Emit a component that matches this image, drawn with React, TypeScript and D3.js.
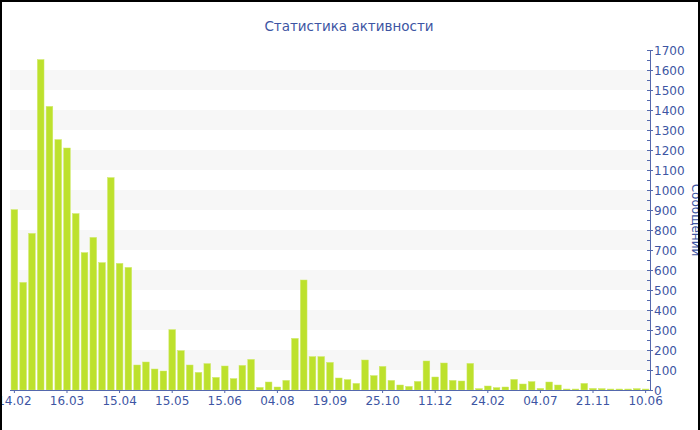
import React from "react";
import * as d3 from "d3";

const values: number[] = [
  902, 538, 783, 1652, 1418, 1252, 1210, 882, 687, 763, 637, 1062, 633, 613,
  125, 140, 105, 95, 302, 197, 125, 88, 132, 63, 120, 57, 123, 153, 13, 40,
  15, 48, 258, 550, 167, 167, 138, 60, 52, 33, 150, 72, 118, 48, 25, 18, 43,
  145, 65, 135, 48, 45, 133, 7, 20, 12, 15, 53, 30, 42, 8, 40, 25, 5, 5, 33,
  8, 7, 5, 5, 5, 7, 5,
];
const tickLabels: string[] = [
  "14.02", "16.03", "15.04", "15.05", "15.06", "04.08", "19.09", "25.10",
  "11.12", "24.02", "04.07", "21.11", "10.06",
];
const tickEvery = 6;
const title = "Статистика активности";
const yTitle = "Сообщений";
const yMax = 1700;

const W = 700;
const H = 430;
const left = 10;
const right = 650;
const top = 50;
const bottom = 390;
const textColor = "#3d55a3";
const axisColor = "#5468ad";
const barColor = "#bde12d";
const font = "DejaVu Sans, Verdana, sans-serif";

export default function App() {
  const categories = values.map((_, i) => i);
  const x = d3
    .scaleBand<number>()
    .domain(categories)
    .range([left, right])
    .paddingInner(0.24)
    .paddingOuter(0.12);
  const y = d3.scaleLinear().domain([0, yMax]).range([bottom, top]);
  const majorTicks = d3.range(0, yMax + 1, 100);
  const minorTicks = d3.range(50, yMax, 100);
  const bands = d3.range(100, yMax, 200).filter((v) => v + 100 <= yMax);
  const xTicks = tickLabels.map((lab, k) => ({
    lab,
    cx: (x(k * tickEvery) as number) + x.bandwidth() / 2,
  }));

  return (
    <svg
      width={W}
      height={H}
      style={{ position: "absolute", left: 0, top: 0, background: "#fff" }}
      fontFamily={font}
    >
      {bands.map((b) => (
        <rect
          key={b}
          x={left}
          y={y(b + 100)}
          width={right - left}
          height={y(b) - y(b + 100)}
          fill="#f7f7f7"
        />
      ))}
      {values.map((v, i) => (
        <rect
          key={i}
          x={x(i)}
          y={y(v)}
          width={x.bandwidth()}
          height={y(0) - y(v)}
          fill={barColor}
          stroke="#cfe96a"
          strokeWidth={0.5}
        />
      ))}
      {/* x axis */}
      <line x1={left} x2={right} y1={bottom + 0.5} y2={bottom + 0.5} stroke={axisColor} />
      {xTicks.map((t) => (
        <g key={t.lab}>
          <line x1={t.cx} x2={t.cx} y1={bottom} y2={bottom + 3} stroke={axisColor} />
          <text
            x={t.cx}
            y={bottom + 15}
            textAnchor="middle"
            fontSize={12}
            fill={textColor}
          >
            {t.lab}
          </text>
        </g>
      ))}
      {/* y axis */}
      <line x1={right + 0.5} x2={right + 0.5} y1={top} y2={bottom} stroke={axisColor} />
      {minorTicks.map((t) => (
        <line key={t} x1={right - 3} x2={right} y1={y(t) + 0.5} y2={y(t) + 0.5} stroke={axisColor} />
      ))}
      {majorTicks.map((t) => (
        <g key={t}>
          <line x1={right - 3} x2={right + 3} y1={y(t) + 0.5} y2={y(t) + 0.5} stroke={axisColor} />
          <text x={right + 4} y={y(t) + 4.5} fontSize={12} fill={textColor}>
            {t}
          </text>
        </g>
      ))}
      <text
        transform={`translate(${692},${(top + bottom) / 2}) rotate(90)`}
        textAnchor="middle"
        fontSize={12}
        fill={textColor}
      >
        {yTitle}
      </text>
      <text x={349} y={31} textAnchor="middle" fontSize={13.5} fill={textColor}>
        {title}
      </text>
      {/* border */}
      <path d={`M1,${H} V1 H${W - 1} V${H}`} fill="none" stroke="#000" strokeWidth={2} />
    </svg>
  );
}
